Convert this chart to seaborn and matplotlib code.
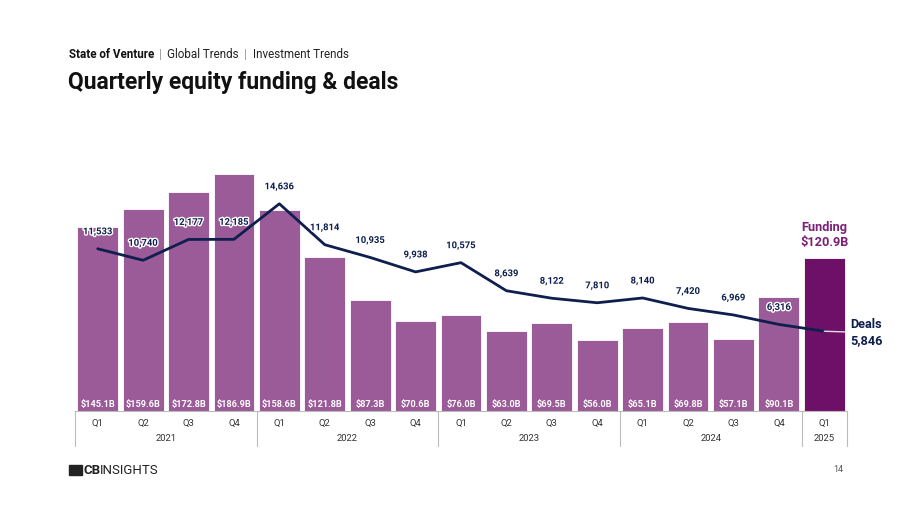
import numpy as np
import pandas as pd
import matplotlib
matplotlib.use("Agg")
import matplotlib.pyplot as plt
import matplotlib.patheffects as pe
import matplotlib.transforms as mtransforms
from matplotlib.patches import Rectangle
import seaborn as sns

sns.set_style("white")
plt.rcParams['font.family'] = ['Roboto', 'DejaVu Sans']

# data
quarters = ['Q1', 'Q2', 'Q3', 'Q4'] * 4 + ['Q1']
years = ['2021'] * 4 + ['2022'] * 4 + ['2023'] * 4 + ['2024'] * 4 + ['2025']
funding = [145.1, 159.6, 172.8, 186.9, 158.6, 121.8, 87.3, 70.6, 76.0,
           63.0, 69.5, 56.0, 65.1, 69.8, 57.1, 90.1, 120.9]
deals = [11533, 10740, 12177, 12185, 14636, 11814, 10935, 9938, 10575,
         8639, 8122, 7810, 8140, 7420, 6969, 6316, 5846]
year_labels = ['2021', '2022', '2023', '2024', '2025']

BAR = '#9b5a98'
BAR_LAST = '#6e1068'
NAVY = '#0e1f4d'
FUND_TXT = '#7b1f78'

df = pd.DataFrame({'period': [f'{q} {y}' for q, y in zip(quarters, years)],
                   'funding': funding, 'deals': deals})
df['pos'] = range(len(df))
colors = [BAR] * (len(df) - 1) + [BAR_LAST]

fig = plt.figure(figsize=(9.2, 5.18), dpi=100)
ax = fig.add_axes([75 / 920, 1 - 411 / 518, 772 / 920, 261 / 518])

sns.barplot(data=df, x='period', y='funding', hue='period', palette=colors,
            legend=False, width=0.9, saturation=1, edgecolor='white',
            linewidth=0.6, ax=ax)
ax.set_xlim(-0.5, len(df) - 0.5)
ax.set_ylim(0, 205.8)

# funding labels in the bars
for i, v in enumerate(funding[:-1]):
    ax.text(i, 5.5, f'${v:.1f}B', ha='center', va='center', color='white',
            fontsize=6.6, fontweight='bold')
ax.text(len(df) - 1, funding[-1] + 7, f'Funding\n${funding[-1]:.1f}B',
        ha='center', va='bottom', color=FUND_TXT, fontsize=9.2,
        fontweight='bold', linespacing=1.15)

# deals line on second axis
ax2 = ax.twinx()
sns.lineplot(x=df['pos'], y=df['deals'], color=NAVY, lw=2, ax=ax2)
ax2.set_ylim(345, 18345)
halo = [pe.withStroke(linewidth=2, foreground='white')]
for i, v in enumerate(deals[:-1]):
    ax2.annotate(f'{v:,}', (i, v), xytext=(0, 9), textcoords='offset points',
                 ha='center', va='bottom', fontsize=6.8, fontweight='bold',
                 color=NAVY, path_effects=halo)
ax2.annotate(f'Deals\n{deals[-1]:,}', (len(df) - 1, deals[-1]),
             xytext=(19, -1), textcoords='offset points', ha='left',
             va='center', fontsize=9.2, fontweight='bold', color=NAVY,
             linespacing=1.3,
             arrowprops=dict(arrowstyle='-', color='#dddddd', lw=1,
                             shrinkA=2, shrinkB=0))

for a in (ax, ax2):
    a.set_xlabel('')
    a.set_ylabel('')
    a.set_yticks([])
    for s in ('top', 'left', 'right'):
        a.spines[s].set_visible(False)
ax2.spines['bottom'].set_visible(False)
ax.spines['bottom'].set_color('#bbbbbb')
ax.spines['bottom'].set_linewidth(0.8)

# category axis: quarters + years
ax.set_xticks(range(len(df)))
ax.set_xticklabels(quarters, fontsize=6.8, color='#333333')
ax.tick_params(axis='x', length=0, pad=6)
trans = mtransforms.blended_transform_factory(ax.transData, ax.transAxes)
bounds = [-0.5, 3.5, 7.5, 11.5, 15.5, 16.5]
for b in bounds:
    ax.plot([b, b], [0, -0.134], transform=trans, color='#bbbbbb', lw=0.8,
            clip_on=False)
for k, y in enumerate(year_labels):
    ax.text((bounds[k] + bounds[k + 1]) / 2, -0.107, y, transform=trans,
            ha='center', va='center', fontsize=6.8, color='#333333')

# titles
fig.text(69 / 920, 1 - 55 / 518, 'State of Venture', fontsize=8.4,
         fontweight='bold', color='#111111', va='center')
fig.text(159 / 920, 1 - 55 / 518, '|', fontsize=8.4, color='#999999', va='center')
fig.text(167 / 920, 1 - 55 / 518, 'Global Trends', fontsize=8.4,
         color='#222222', va='center')
fig.text(244 / 920, 1 - 55 / 518, '|', fontsize=8.4, color='#999999', va='center')
fig.text(253 / 920, 1 - 55 / 518, 'Investment Trends', fontsize=8.4,
         color='#222222', va='center')
fig.text(68 / 920, 1 - 82 / 518, 'Quarterly equity funding & deals',
         fontsize=16.5, fontweight='bold', color='#111111', va='center')

# footer
fig.patches.append(Rectangle((69 / 920, 1 - 475 / 518), 13 / 920, 10 / 518,
                             transform=fig.transFigure, color='#222222'))
fig.text(84 / 920, 1 - 470 / 518, 'CB', fontsize=9.5, fontweight='bold',
         color='#222222', va='center')
fig.text(100 / 920, 1 - 470 / 518, 'INSIGHTS', fontsize=9.5,
         color='#222222', va='center')
fig.text(833 / 920, 1 - 470 / 518, '14', fontsize=6.5, color='#555555',
         va='center')

fig.savefig('out.png', dpi=100, facecolor='white')
